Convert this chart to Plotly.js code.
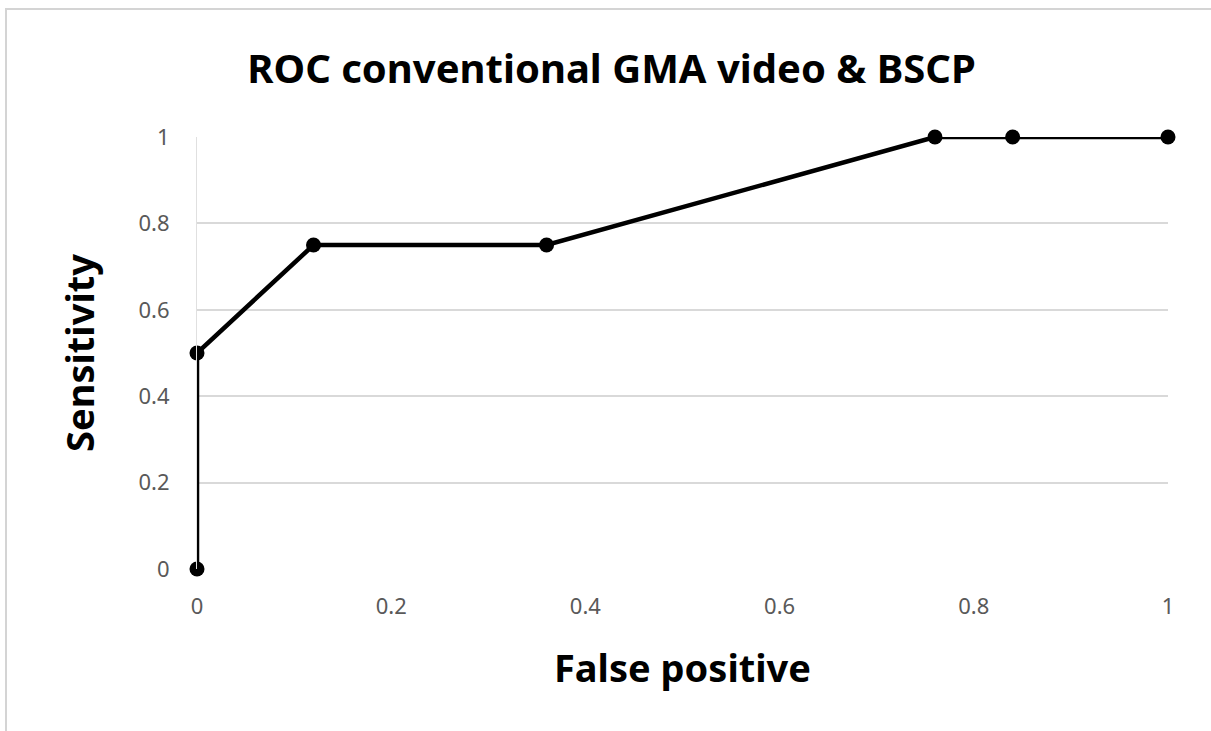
<!DOCTYPE html>
<html>
<head>
<meta charset="utf-8">
<script src="https://cdn.plot.ly/plotly-3.0.1.min.js"></script>
<style>
html,body{margin:0;padding:0;background:#fff;}
#frame{position:absolute;left:5px;top:8px;width:1206px;height:723px;border-top:2px solid #d4d4d4;border-left:2px solid #d4d4d4;box-sizing:border-box;pointer-events:none;z-index:5;}
#chart{position:absolute;left:0;top:0;width:1211px;height:731px;}
</style>
</head>
<body>
<div id="chart"></div>
<div id="frame"></div>
<script>
const falsePositive = [0, 0, 0.12, 0.36, 0.76, 0.84, 1];
const sensitivity   = [0, 0.5, 0.75, 0.75, 1, 1, 1];
const tickValues = [0, 0.2, 0.4, 0.6, 0.8, 1];
const tickLabels = ['0', '0.2', '0.4', '0.6', '0.8', '1'];

const trace = {
  x: falsePositive,
  y: sensitivity,
  type: 'scatter',
  mode: 'lines+markers',
  line: {color: '#000000', width: 4.5},
  marker: {color: '#000000', size: 15},
  cliponaxis: false,
  showlegend: false
};

const layout = {
  width: 1211,
  height: 731,
  margin: {l: 197, r: 43, t: 137, b: 162},
  paper_bgcolor: '#ffffff',
  plot_bgcolor: '#ffffff',
  font: {family: 'Noto Sans, sans-serif', color: '#595959'},
  title: {
    text: '<b>ROC conventional GMA video &amp; BSCP</b>',
    font: {family: 'Noto Sans, sans-serif', size: 40, color: '#000000'},
    x: 0.505, xanchor: 'center',
    y: 0.905, yanchor: 'middle'
  },
  xaxis: {
    range: [0, 1],
    tickvals: tickValues,
    ticktext: tickLabels,
    showgrid: false,
    zeroline: false,
    showline: false,
    ticks: '',
    ticklabelstandoff: 22,
    tickfont: {size: 22, color: '#595959'},
    title: {text: '<b>False positive</b>', font: {size: 38, color: '#000000'}, standoff: 36}
  },
  yaxis: {
    range: [0, 1],
    tickvals: tickValues,
    ticktext: tickLabels,
    showgrid: true,
    gridcolor: '#d9d9d9',
    gridwidth: 2,
    zeroline: false,
    showline: true,
    linecolor: '#e0e0e0',
    linewidth: 1,
    ticks: '',
    ticklabelstandoff: 22,
    tickfont: {size: 22, color: '#595959'},
    title: {text: '<b>Sensitivity</b>', font: {size: 38, color: '#000000'}, standoff: 32}
  }
};

Plotly.newPlot('chart', [trace], layout, {staticPlot: true, displayModeBar: false});
</script>
</body>
</html>
